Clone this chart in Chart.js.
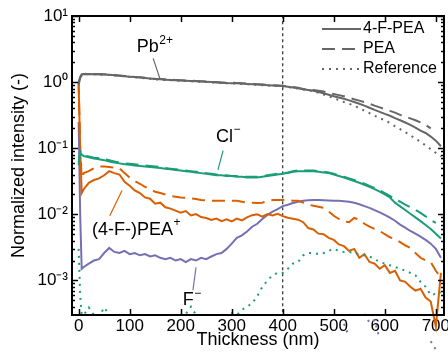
<!DOCTYPE html>
<html>
<head>
<meta charset="utf-8">
<script src="https://cdn.jsdelivr.net/npm/chart.js@4.4.0/dist/chart.umd.min.js"></script>
<style>
  html, body { margin: 0; padding: 0; background: #fff; }
  canvas { display: block; }
</style>
</head>
<body>
<canvas id="depthChart" width="448" height="358"></canvas>
<script>
// thickness axis (nm)
const thickness = [0, 3, 6, 10,
  20, 30, 40, 50, 60, 70, 80, 90, 100, 110,
  120, 130, 140, 150, 160, 170, 180, 190, 200, 210,
  220, 230, 240, 250, 260, 270, 280, 290, 300, 310,
  320, 330, 340, 350, 360, 370, 380, 390, 400, 410,
  420, 430, 440, 450, 460, 470, 480, 490, 500, 510,
  520, 530, 540, 550, 560, 570, 580, 590, 600, 610,
  620, 630, 640, 650, 660, 670, 680, 690, 700, 710];

// Pb2+
const pbFPEA = [0.9, 1.15, 1.3, 1.32,
  1.33, 1.32, 1.31, 1.3, 1.29, 1.27, 1.25, 1.23, 1.21, 1.19,
  1.17, 1.15, 1.13, 1.11, 1.1, 1.09, 1.08, 1.07, 1.06, 1.05,
  1.04, 1.03, 1.02, 1.01, 1.0, 0.99, 0.98, 0.97, 0.965, 0.96,
  0.95, 0.94, 0.93, 0.92, 0.91, 0.9, 0.89, 0.88, 0.87, 0.85,
  0.83, 0.81, 0.78, 0.76, 0.74, 0.71, 0.68, 0.645, 0.61, 0.585,
  0.56, 0.53, 0.5, 0.47, 0.44, 0.41, 0.38, 0.355, 0.33, 0.31,
  0.285, 0.265, 0.245, 0.225, 0.205, 0.185, 0.17, 0.15, 0.13, 0.107];
const pbPEA = [1.0, 1.2, 1.31, 1.33,
  1.34, 1.33, 1.32, 1.31, 1.3, 1.28, 1.26, 1.24, 1.22, 1.2,
  1.18, 1.16, 1.14, 1.12, 1.11, 1.1, 1.09, 1.08, 1.07, 1.06,
  1.05, 1.04, 1.03, 1.02, 1.01, 1.0, 0.99, 0.98, 0.975, 0.97,
  0.96, 0.95, 0.94, 0.93, 0.92, 0.91, 0.9, 0.89, 0.88, 0.86,
  0.84, 0.82, 0.79, 0.775, 0.76, 0.74, 0.72, 0.69, 0.66, 0.635,
  0.61, 0.58, 0.55, 0.525, 0.5, 0.47, 0.44, 0.415, 0.39, 0.367,
  0.345, 0.32, 0.3, 0.283, 0.265, 0.245, 0.225, 0.2, null, null];
const pbRef = [0.95, 1.1, 1.28, 1.31,
  1.32, 1.31, 1.3, 1.29, 1.28, 1.26, 1.24, 1.22, 1.2, 1.18,
  1.16, 1.14, 1.12, 1.1, 1.09, 1.08, 1.07, 1.06, 1.05, 1.04,
  1.03, 1.02, 1.01, 1.0, 0.99, 0.98, 0.97, 0.96, 0.955, 0.95,
  0.94, 0.93, 0.92, 0.91, 0.9, 0.89, 0.88, 0.87, 0.86, 0.84,
  0.82, 0.8, 0.77, 0.75, 0.73, 0.69, 0.65, 0.61, 0.57, 0.535,
  0.5, 0.47, 0.44, 0.405, 0.37, 0.34, 0.31, 0.285, 0.265, 0.24,
  0.215, 0.195, 0.175, 0.157, 0.14, 0.125, 0.11, 0.097, 0.085, 0.075];

// Cl-
const clFPEA = [0.055, 0.085, 0.08, 0.076,
  0.073, 0.07, 0.068, 0.066, 0.063, 0.061, 0.059, 0.057, 0.056, 0.055,
  0.054, 0.053, 0.052, 0.051, 0.05, 0.049, 0.048, 0.047, 0.046, 0.045,
  0.044, 0.043, 0.042, 0.041, 0.04, 0.039, 0.039, 0.038, 0.038, 0.037,
  0.037, 0.036, 0.036, 0.036, 0.037, 0.038, 0.039, 0.04, 0.041, 0.042,
  0.044, 0.045, 0.045, 0.045, 0.045, 0.044, 0.043, 0.042, 0.04, 0.038,
  0.036, 0.034, 0.032, 0.03, 0.028, 0.026, 0.024, 0.022, 0.02, 0.018,
  0.015, 0.0132, 0.0116, 0.0102, 0.009, 0.0079, 0.0069, 0.006, 0.0051, 0.0043];
const clPEA = [0.06, 0.09, 0.082, 0.078,
  0.075, 0.072, 0.071, 0.068, 0.066, 0.063, 0.061, 0.059, 0.058, 0.057,
  0.056, 0.055, 0.054, 0.053, 0.052, 0.05, 0.049, 0.048, 0.047, 0.046,
  0.045, 0.044, 0.043, 0.042, 0.041, 0.04, 0.039, 0.039, 0.038, 0.038,
  0.037, 0.037, 0.037, 0.037, 0.038, 0.039, 0.04, 0.041, 0.042, 0.043,
  0.045, 0.046, 0.046, 0.046, 0.046, 0.045, 0.044, 0.043, 0.041, 0.039,
  0.037, 0.035, 0.033, 0.031, 0.029, 0.027, 0.025, 0.023, 0.021, 0.019,
  0.017, 0.0155, 0.014, 0.0128, 0.0117, 0.0105, 0.0093, 0.0082, 0.0074, null];
const clRef = [0.003, 0.0006, 0.0003, 0.0003,
  0.00039, 0.0003, 0.00028, 0.00039, 0.0003, 0.00025, 0.0003, 0.00028, 0.0003, 0.00026,
  0.00028, 0.00025, 0.0003, 0.00027, 0.00026, 0.0003, 0.00028, 0.00027, 0.0003, 0.00031,
  0.0004, 0.0003, 0.00028, 0.0003, 0.00027, 0.0003, 0.00029, 0.0003, 0.00032, 0.0003,
  0.00036, 0.0004, 0.00045, 0.00058, 0.0008, 0.001, 0.0012, 0.0013, 0.0013, 0.0015,
  0.0018, 0.0019, 0.0024, 0.0026, 0.0026, 0.0025, 0.0026, 0.0028, 0.003, 0.0028,
  0.0027, 0.0027, 0.0026, 0.0025, 0.0024, 0.0023, 0.0021, 0.0019, 0.0018, 0.0017,
  0.0016, 0.0015, 0.0014, 0.0013, 0.0012, 0.00095, 0.0008, 0.0006, 0.00063, 0.00066];

// (4-F-)PEA+
const orgFPEA = [0.9, 0.1, 0.021, 0.024,
  0.03, 0.033, 0.035, 0.039, 0.045, 0.042, 0.04, 0.031, 0.027, 0.023,
  0.021, 0.018, 0.0172, 0.0145, 0.015, 0.0128, 0.0122, 0.0114, 0.0106, 0.0112,
  0.0096, 0.0101, 0.0091, 0.0088, 0.0082, 0.0086, 0.0079, 0.0084, 0.0078, 0.0086,
  0.0081, 0.009, 0.0097, 0.01, 0.0092, 0.0101, 0.0096, 0.0102, 0.0094, 0.0089,
  0.0086, 0.0083, 0.0076, 0.0062, 0.0059, 0.0051, 0.005, 0.0044, 0.0041, 0.0035,
  0.0033, 0.0028, 0.003, 0.0022, 0.0025, 0.0019, 0.0018, 0.0015, 0.0017, 0.0013,
  0.0014, 0.001, 0.00095, 0.0008, 0.0007, 0.00075, 0.00055, 0.00048, 0.0002, 0.0013];
const orgPEA = [1.0, 0.1, 0.035, 0.042,
  0.045, 0.05, 0.053, 0.053, 0.052, 0.051, 0.05, 0.042, 0.036, 0.032,
  0.029, 0.026, 0.024, 0.022, 0.021, 0.02, 0.019, 0.0185, 0.018, 0.0178,
  0.0175, 0.017, 0.0165, 0.0163, 0.016, 0.016, 0.016, 0.016, 0.016, 0.016,
  0.0155, 0.015, 0.015, 0.0148, 0.015, 0.016, 0.0165, 0.0165, 0.0165, 0.0165,
  0.016, 0.016, 0.015, 0.014, 0.0135, 0.013, 0.0125, 0.011, 0.0095, 0.0085,
  0.0078, 0.0076, 0.0088, 0.0083, 0.0072, 0.0065, 0.006, 0.0056, 0.005, 0.0045,
  0.0042, 0.0038, 0.0034, 0.0031, 0.0026, 0.0022, 0.002, 0.0019, 0.0014, 0.0011];

// F-
const fFPEA = [0.25, 0.01, 0.0015, 0.0016,
  0.0018, 0.002, 0.0021, 0.0026, 0.0031, 0.0027, 0.0026, 0.0028, 0.0025, 0.0026,
  0.0024, 0.0025, 0.0023, 0.0024, 0.0022, 0.0021, 0.0022, 0.002, 0.0021, 0.0019,
  0.0021, 0.002, 0.0022, 0.0021, 0.0023, 0.0025, 0.0026, 0.003, 0.0036, 0.0044,
  0.0048, 0.0055, 0.0065, 0.0072, 0.0085, 0.0098, 0.011, 0.012, 0.0133, 0.014,
  0.0148, 0.0155, 0.016, 0.0163, 0.0164, 0.0164, 0.0163, 0.0162, 0.016, 0.016,
  0.0158, 0.0155, 0.015, 0.0142, 0.0133, 0.0125, 0.0116, 0.0107, 0.0098, 0.0089,
  0.008, 0.007, 0.0063, 0.0056, 0.0051, 0.0046, 0.0041, 0.0036, 0.003, 0.0022];
const fRef = [null, null, null, null,
  null, null, null, null, null, null, null, null, null, null,
  null, null, null, null, null, null, null, null, null, null,
  null, null, null, null, null, null, null, null, null, null,
  null, null, null, null, null, null, null, null, null, null,
  null, null, null, null, null, null, null, null, null, null,
  0.00022, 0.00014, null, null, 0.00031, 0.00023, 0.00025, 0.00013, null, null,
  null, null, null, null, null, null, null, 0.00012, 0.00009, null];

const xTicks = [0, 100, 200, 300, 400, 500, 600, 700];
const xMin = -13, xMax = 716;
const yMin = 3.3e-4, yMax = 10;
const markerThickness = 400;

const GRAY = '#666666', GREEN = '#1b9e77', ORANGE = '#d95f02', PURPLE = '#7570b3';
const FONT = '"Liberation Sans", Arial, sans-serif';
const DASHED = [13, 7], DOTTED = [2, 5];

function pts(values) {
  return thickness.map((t, i) => ({ x: t, y: values[i] }));
}

function line(label, values, color, dash, extra) {
  return Object.assign({
    label: label,
    data: pts(values),
    borderColor: color,
    borderWidth: 2,
    borderDash: dash,
    pointRadius: 0,
    tension: 0,
    fill: false
  }, extra || {});
}

const SUP = { '0': '\u2070', '1': '\u00b9', '2': '\u00b2', '3': '\u00b3', '-': '\u207b' };
function decadeLabel(v) {
  const e = Math.log10(v);
  if (Math.abs(e - Math.round(e)) > 1e-6) return '';
  return '10' + String(Math.round(e)).split('').map(c => SUP[c]).join('');
}

// frame, inward ticks, legend and curve labels
const decorations = {
  id: 'decorations',
  afterDraw(chart) {
    const { ctx, chartArea: a, scales: { x, y } } = chart;
    ctx.save();
    ctx.strokeStyle = '#000';
    ctx.lineWidth = 1.5;
    const seg = (x1, y1, x2, y2) => { ctx.beginPath(); ctx.moveTo(x1, y1); ctx.lineTo(x2, y2); ctx.stroke(); };
    xTicks.forEach(v => {
      const px = Math.round(x.getPixelForValue(v)) + 0.5;
      seg(px, a.bottom, px, a.bottom - 6);
      seg(px, a.top, px, a.top + 6);
    });
    for (let e = -4; e <= 1; e++) {
      for (let m = 1; m <= 9; m++) {
        const v = m * Math.pow(10, e);
        if (v < yMin || v > yMax) continue;
        const len = m === 1 ? 6 : 3;
        const py = Math.round(y.getPixelForValue(v)) + 0.5;
        seg(a.left, py, a.left + len, py);
        seg(a.right, py, a.right - len, py);
      }
    }
    ctx.lineWidth = 2;
    ctx.strokeRect(a.left, a.top, a.right - a.left, a.bottom - a.top);

    // legend
    const legend = [['4-F-PEA', []], ['PEA', DASHED], ['Reference', DOTTED]];
    ctx.font = '16px ' + FONT;
    ctx.textBaseline = 'middle';
    ctx.textAlign = 'left';
    legend.forEach((item, i) => {
      const ly = a.top + 13 + i * 20;
      ctx.strokeStyle = GRAY;
      ctx.lineWidth = 2;
      ctx.setLineDash(item[1]);
      seg(322, ly, 361, ly);
      ctx.setLineDash([]);
      ctx.fillStyle = '#000';
      ctx.fillText(item[0], 363, ly);
    });

    // curve labels with leader lines (data coordinates)
    const notes = [
      { text: 'Pb', sup: '2+', at: [114, 3.35], from: [146, 2.29], to: [159, 1.15], color: GRAY },
      { text: 'Cl', sup: '\u2212', at: [269, 0.15], from: [283, 0.092], to: [273, 0.047], color: GREEN },
      { text: '(4-F-)PEA', sup: '+', at: [26, 0.0058], from: [61, 0.0095], to: [85, 0.023], color: ORANGE },
      { text: 'F', sup: '\u2212', at: [204, 0.0005], from: [224, 0.00071], to: [230, 0.00158], color: PURPLE }
    ];
    notes.forEach(n => {
      ctx.strokeStyle = n.color;
      ctx.lineWidth = 1.2;
      seg(x.getPixelForValue(n.from[0]), y.getPixelForValue(n.from[1]),
          x.getPixelForValue(n.to[0]), y.getPixelForValue(n.to[1]));
      const tx = x.getPixelForValue(n.at[0]);
      const ty = y.getPixelForValue(n.at[1]);
      ctx.fillStyle = '#000';
      ctx.font = '18px ' + FONT;
      ctx.fillText(n.text, tx, ty);
      const w = ctx.measureText(n.text).width;
      ctx.font = '12px ' + FONT;
      ctx.fillText(n.sup, tx + w + 0.5, ty - 7);
    });
    ctx.restore();
  }
};

const ctx = document.getElementById('depthChart').getContext('2d');
new Chart(ctx, {
  type: 'line',
  data: {
    datasets: [
      line('Pb 4-F-PEA', pbFPEA, GRAY, []),
      line('Pb PEA', pbPEA, GRAY, DASHED),
      line('Pb Reference', pbRef, GRAY, DOTTED),
      line('Cl 4-F-PEA', clFPEA, GREEN, []),
      line('Cl PEA', clPEA, GREEN, DASHED),
      line('Cl Reference', clRef, GREEN, DOTTED),
      line('PEA+ 4-F-PEA', orgFPEA, ORANGE, [], { clip: { left: 0, top: 0, right: 0, bottom: false } }),
      line('PEA+ PEA', orgPEA, ORANGE, DASHED),
      line('F 4-F-PEA', fFPEA, PURPLE, []),
      line('F Reference', fRef, PURPLE, DOTTED, { clip: { left: 0, top: 0, right: 0, bottom: false } }),
      {
        label: 'marker',
        data: [{ x: markerThickness, y: yMin }, { x: markerThickness, y: yMax }],
        borderColor: '#000',
        borderWidth: 1,
        borderDash: [3, 3],
        pointRadius: 0
      }
    ]
  },
  options: {
    responsive: false,
    animation: false,
    devicePixelRatio: 1,
    layout: { padding: { top: 16, right: 4, left: 0, bottom: 0 } },
    plugins: { legend: { display: false }, tooltip: { enabled: false } },
    scales: {
      x: {
        type: 'linear',
        min: xMin,
        max: xMax,
        grid: { display: false, drawTicks: false },
        border: { display: false },
        ticks: {
          stepSize: 100,
          includeBounds: false,
          autoSkip: false,
          maxRotation: 0,
          padding: 1,
          color: '#000',
          font: { family: FONT, size: 17 }
        },
        title: {
          display: true,
          text: 'Thickness (nm)',
          color: '#000',
          font: { family: FONT, size: 18 },
          padding: { top: 0, bottom: 7 }
        },
        afterFit(s) { s.height = 43; s.paddingRight = 0; s.paddingLeft = 0; }
      },
      y: {
        type: 'logarithmic',
        min: yMin,
        max: yMax,
        grid: { display: false, drawTicks: false },
        border: { display: false },
        ticks: {
          autoSkip: false,
          padding: 4,
          color: '#000',
          font: { family: FONT, size: 17 },
          callback: decadeLabel
        },
        title: {
          display: true,
          text: 'Normalized intensity (-)',
          color: '#000',
          font: { family: FONT, size: 18 },
          padding: { top: 8, bottom: 0 }
        },
        afterFit(s) { s.width = 72; }
      }
    }
  },
  plugins: [decorations]
});
</script>
</body>
</html>
